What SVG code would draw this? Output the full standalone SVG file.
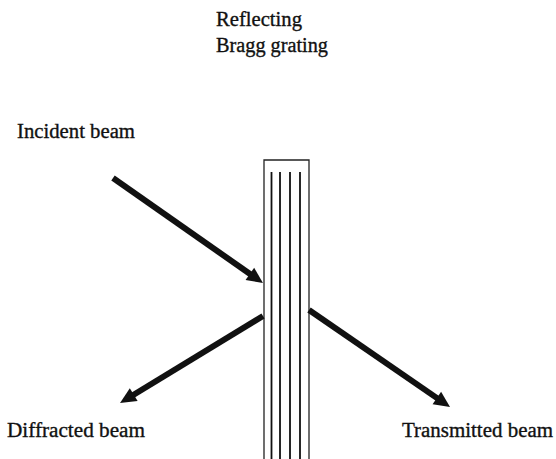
<svg xmlns="http://www.w3.org/2000/svg" width="556" height="459" viewBox="0 0 556 459">
  <style>
    .lbl { font-family: "Liberation Serif", "Times New Roman", serif; font-size: 20.5px; fill: #111; stroke: #111; stroke-width: 0.35; }
    .edge { stroke: #222; stroke-width: 1.3; fill: none; }
    .fringe { stroke: #111; stroke-width: 1.8; fill: none; }
    .beam { stroke: #111; stroke-width: 6; fill: none; marker-end: url(#head); }
  </style>
  <defs>
    <marker id="head" markerUnits="userSpaceOnUse" viewBox="0 -9 19 18" markerWidth="19" markerHeight="18" refX="2" refY="0" orient="auto" overflow="visible">
      <path d="M0,-7.5 L16,0 L0,7.5 z" fill="#111"/>
    </marker>
  </defs>
  <rect width="556" height="459" fill="#fff"/>

  <g id="grating">
    <text class="lbl" x="216" y="26" textLength="86" lengthAdjust="spacingAndGlyphs">Reflecting</text>
    <text class="lbl" x="216" y="52" textLength="112" lengthAdjust="spacingAndGlyphs">Bragg grating</text>
    <path class="edge" d="M264,459 V160 H309 V459"/>
    <path class="fringe" d="M271.5,172 V459 M280,172 V459 M290,172 V459 M300,172 V459"/>
  </g>

  <g id="incident">
    <text class="lbl" x="17" y="138" textLength="118" lengthAdjust="spacingAndGlyphs">Incident beam</text>
  </g>
  <g id="diffracted">
    <text class="lbl" x="7" y="437" textLength="138" lengthAdjust="spacingAndGlyphs">Diffracted beam</text>
  </g>
  <g id="transmitted">
    <text class="lbl" x="402" y="437" textLength="151" lengthAdjust="spacingAndGlyphs">Transmitted beam</text>
  </g>

  <g id="connectors">
    <line class="beam" x1="113" y1="178" x2="251.5" y2="275"/>
    <line class="beam" x1="263" y1="316" x2="132" y2="395.7"/>
    <line class="beam" x1="309" y1="310" x2="438.5" y2="399.1"/>
  </g>
</svg>
